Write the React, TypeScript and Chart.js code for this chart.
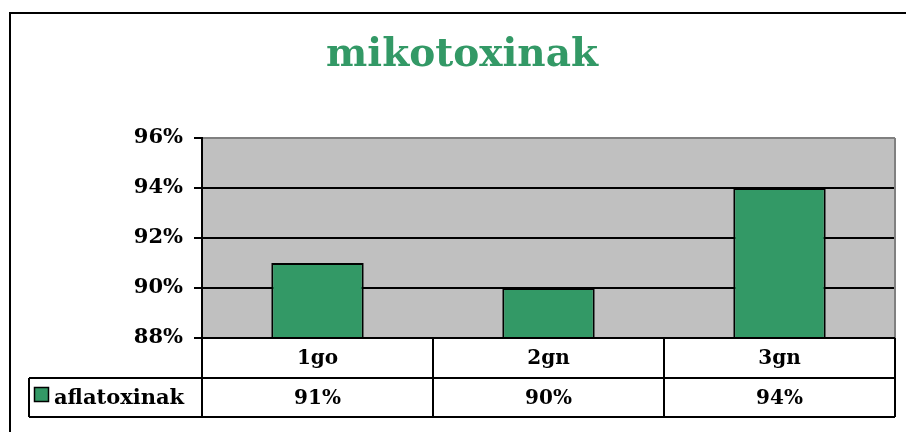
import React, { useEffect, useRef } from "react";
import { Chart, registerables } from "chart.js";

Chart.register(...registerables);

const TITLE = "mikotoxinak";
const categories = ["1go", "2gn", "3gn"];
const seriesName = "aflatoxinak";
const seriesValues = [91, 90, 94];
const tableLabels = ["91%", "90%", "94%"];
const yMin = 88;
const yMax = 96;
const yStep = 2;

const GREEN = "#339966";
const FONT = "'DejaVu Serif', 'Liberation Serif', serif";

const tablePlugin = {
  id: "tablePlugin",
  beforeDraw(chart: any) {
    const { ctx, chartArea } = chart;
    ctx.save();
    ctx.fillStyle = "#ffffff";
    ctx.fillRect(0, 0, chart.width, chart.height);
    ctx.fillStyle = "#c0c0c0";
    ctx.fillRect(chartArea.left, chartArea.top, chartArea.right - chartArea.left, chartArea.bottom - chartArea.top);
    ctx.restore();
  },
  afterDraw(chart: any) {
    const { ctx, chartArea } = chart;
    const L = chartArea.left;
    const R = chartArea.right;
    const B = chartArea.bottom;
    const T = chartArea.top;
    ctx.save();
    // right gray border of plot area
    ctx.strokeStyle = "#808080";
    ctx.lineWidth = 2;
    ctx.beginPath();
    ctx.moveTo(R, T);
    ctx.lineTo(R, B);
    ctx.stroke();

    // data table
    const row1 = B + 40;
    const row2 = B + 79;
    const legendLeft = 29;
    ctx.strokeStyle = "#000000";
    ctx.lineWidth = 2;
    ctx.beginPath();
    ctx.moveTo(L, B);
    ctx.lineTo(R, B);
    ctx.moveTo(legendLeft, row1);
    ctx.lineTo(R, row1);
    ctx.moveTo(legendLeft, row2);
    ctx.lineTo(R, row2);
    ctx.moveTo(legendLeft, row1);
    ctx.lineTo(legendLeft, row2);
    const n = categories.length;
    const w = (R - L) / n;
    for (let i = 0; i <= n; i++) {
      const x = L + i * w;
      ctx.moveTo(x, B);
      ctx.lineTo(x, row2);
    }
    ctx.stroke();

    ctx.fillStyle = "#000000";
    ctx.font = `bold 20px ${FONT}`;
    ctx.textAlign = "center";
    ctx.textBaseline = "middle";
    for (let i = 0; i < n; i++) {
      const cx = L + (i + 0.5) * w;
      ctx.fillText(categories[i], cx, (B + row1) / 2 + 1);
      ctx.fillText(tableLabels[i], cx, (row1 + row2) / 2 + 1);
    }
    // legend key
    ctx.fillStyle = GREEN;
    ctx.fillRect(34.5, 387.5, 14, 14);
    ctx.strokeStyle = "#000000";
    ctx.lineWidth = 1.5;
    ctx.strokeRect(34.5, 387.5, 14, 14);
    ctx.fillStyle = "#000000";
    ctx.font = `bold 21px ${FONT}`;
    ctx.textAlign = "left";
    ctx.fillText(seriesName, 54, (row1 + row2) / 2 + 1);

    // outer frame
    ctx.lineWidth = 2;
    ctx.beginPath();
    ctx.moveTo(10, 440);
    ctx.lineTo(10, 13);
    ctx.lineTo(910, 13);
    ctx.stroke();

    // title
    ctx.fillStyle = GREEN;
    ctx.font = `bold 39px ${FONT}`;
    ctx.textAlign = "center";
    ctx.textBaseline = "middle";
    ctx.fillText(TITLE, 462, 56);
    ctx.restore();
  },
};

export default function App() {
  const ref = useRef<HTMLCanvasElement>(null);
  useEffect(() => {
    if (!ref.current) return;
    const chart = new Chart(ref.current, {
      type: "bar",
      data: {
        labels: categories,
        datasets: [
          {
            label: seriesName,
            data: seriesValues,
            backgroundColor: GREEN,
            borderColor: "#000000",
            borderWidth: 2,
            borderSkipped: false,
            categoryPercentage: 1,
            barPercentage: 0.4,
          },
        ],
      },
      options: {
        responsive: false,
        animation: false,
        layout: { padding: { left: 0, right: 11, top: 138, bottom: 94 } },
        plugins: { legend: { display: false }, title: { display: false }, tooltip: { enabled: false } },
        scales: {
          x: { display: false },
          y: {
            min: yMin,
            max: yMax,
            afterFit: (s: any) => {
              s.width = 202;
            },
            ticks: {
              stepSize: yStep,
              padding: 11,
              color: "#000000",
              font: { family: FONT, size: 21, weight: "bold" },
              callback: (v: any) => v + "%",
            },
            grid: {
              color: (c: any) => (c.tick && c.tick.value === yMax ? "#808080" : "#000000"),
              lineWidth: 2,
              tickColor: "#000000",
              tickLength: 8,
            },
            border: { color: "#000000", width: 2 },
          },
        },
      },
      plugins: [tablePlugin],
    });
    return () => chart.destroy();
  }, []);
  return (
    <div style={{ position: "absolute", left: 0, top: 0, width: 906, height: 432 }}>
      <canvas ref={ref} width={906} height={432} style={{ width: 906, height: 432 }} />
    </div>
  );
}
